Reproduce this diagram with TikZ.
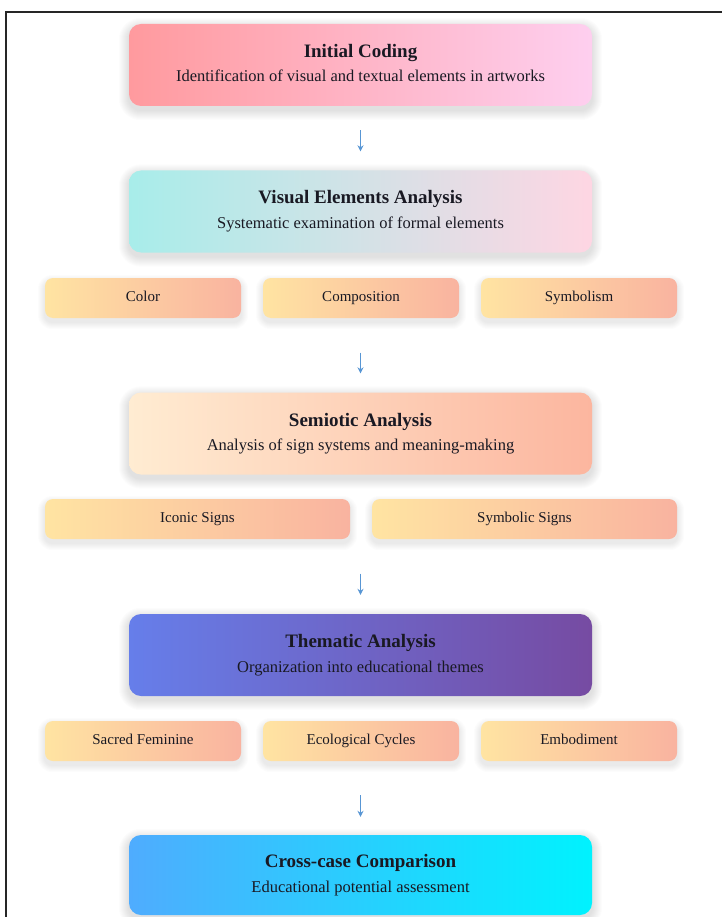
\documentclass[tikz,border=0pt]{standalone}
\usepackage{fontspec}
\setmainfont{Liberation Serif}
\usetikzlibrary{arrows.meta}
\pgfdeclarelayer{bg}
\pgfsetlayers{bg,main}
\definecolor{txt}{RGB}{25,25,35}
\definecolor{arrowc}{RGB}{88,150,212}
\definecolor{aL}{HTML}{FF9A9E}\definecolor{aR}{HTML}{FECFEF}
\definecolor{bL}{HTML}{A8EDEA}\definecolor{bR}{HTML}{FED6E3}
\definecolor{cL}{HTML}{FFECD2}\definecolor{cR}{HTML}{FCB69F}
\definecolor{dL}{HTML}{667EEA}\definecolor{dR}{HTML}{764BA2}
\definecolor{eL}{HTML}{4FACFE}\definecolor{eR}{HTML}{00F2FE}
\definecolor{sL}{HTML}{FFE4A2}\definecolor{sR}{HTML}{F9B3A0}
\tikzset{
  mainbox/.style={rounded corners=12pt, minimum width=463pt, minimum height=82pt,
    inner sep=0pt, draw=none},
  subbox/.style={rounded corners=8pt, minimum height=40pt, inner sep=0pt, draw=none,
    left color=sL, right color=sR, text=txt, font=\fontsize{15}{18}\selectfont,
    text height=10.5pt, text depth=3.5pt},
  titletext/.style={font=\fontsize{19}{22}\selectfont\bfseries, text=txt, inner sep=0pt,
    text height=13pt, text depth=4pt},
  subtext/.style={font=\fontsize{16.5}{20}\selectfont, text=txt, inner sep=0pt,
    text height=11.5pt, text depth=3.5pt},
  flowarrow/.style={draw=arrowc, line width=1.2pt, -{Stealth[length=6pt,width=6pt]}},
  shadowlayer/.style={fill=black, opacity=#1, draw=none},
}
% soft shadow: node name, corner radius, number of layers, opacity per layer
\newcommand{\mysoftshadow}[4]{%
  \begin{pgfonlayer}{bg}
  \foreach \k in {1,...,#3}{%
    \pgfmathsetmacro{\rr}{#2+\k}%
    \fill[shadowlayer=#4, rounded corners=\rr pt]
      ([shift={(-\k,-\k+4)}]#1.north west) rectangle ([shift={(\k,\k+4)}]#1.south east);
  }
  \end{pgfonlayer}}
\begin{document}
\begin{tikzpicture}[x=1pt,y=-1pt]
\begin{pgfonlayer}{bg}
\fill[white] (0,0) rectangle (721,917);
\end{pgfonlayer}
\useasboundingbox (0,0) rectangle (721,917);
\draw[line width=2pt, black!85] (6,917) -- (6,12) -- (722,12);

% main boxes
\node[mainbox, left color=aL, right color=aR] (b1) at (360.5,65) {};
\node[titletext] (b1t) at ([yshift=12pt]b1.center) {Initial Coding};
\node[subtext] (b1s) at ([yshift=-13pt]b1.center) {Identification of visual and textual elements in artworks};

\node[mainbox, left color=bL, right color=bR] (b2) at (360.5,211.5) {};
\node[titletext] (b2t) at ([yshift=12pt]b2.center) {Visual Elements Analysis};
\node[subtext] (b2s) at ([yshift=-13pt]b2.center) {Systematic examination of formal elements};

\node[subbox, minimum width=196pt] (c1) at (143,298) {Color};
\node[subbox, minimum width=196pt] (c2) at (361,298) {Composition};
\node[subbox, minimum width=196pt] (c3) at (579,298) {Symbolism};

\node[mainbox, left color=cL, right color=cR] (b3) at (360.5,433.5) {};
\node[titletext] (b3t) at ([yshift=12pt]b3.center) {Semiotic Analysis};
\node[subtext] (b3s) at ([yshift=-13pt]b3.center) {Analysis of sign systems and meaning-making};

\node[subbox, minimum width=305pt] (s1) at (197.5,519) {Iconic Signs};
\node[subbox, minimum width=305pt] (s2) at (524.5,519) {Symbolic Signs};

\node[mainbox, left color=dL, right color=dR] (b4) at (360.5,655) {};
\node[titletext] (b4t) at ([yshift=12pt]b4.center) {Thematic Analysis};
\node[subtext] (b4s) at ([yshift=-13pt]b4.center) {Organization into educational themes};

\node[subbox, minimum width=196pt] (t1) at (143,741) {Sacred Feminine};
\node[subbox, minimum width=196pt] (t2) at (361,741) {Ecological Cycles};
\node[subbox, minimum width=196pt] (t3) at (579,741) {Embodiment};

\node[mainbox, left color=eL, right color=eR, minimum height=80pt] (b5) at (360.5,875) {};
\node[titletext] (b5t) at ([yshift=12pt]b5.center) {Cross-case Comparison};
\node[subtext] (b5s) at ([yshift=-13pt]b5.center) {Educational potential assessment};

% shadows
\foreach \n in {b1,b2,b3,b4,b5}{\mysoftshadow{\n}{12}{10}{0.011}}
\foreach \n in {c1,c2,c3,s1,s2,t1,t2,t3}{\mysoftshadow{\n}{8}{7}{0.012}}

% arrows
\draw[flowarrow, shorten <=24pt, shorten >=19pt] (b1.south) -- (b2.north);
\draw[flowarrow, shorten <=100pt, shorten >=19pt] (b2.south) -- (b3.north);
\draw[flowarrow, shorten <=99pt, shorten >=19pt] (b3.south) -- (b4.north);
\draw[flowarrow, shorten <=99pt, shorten >=18pt] (b4.south) -- (b5.north);
\end{tikzpicture}
\end{document}
